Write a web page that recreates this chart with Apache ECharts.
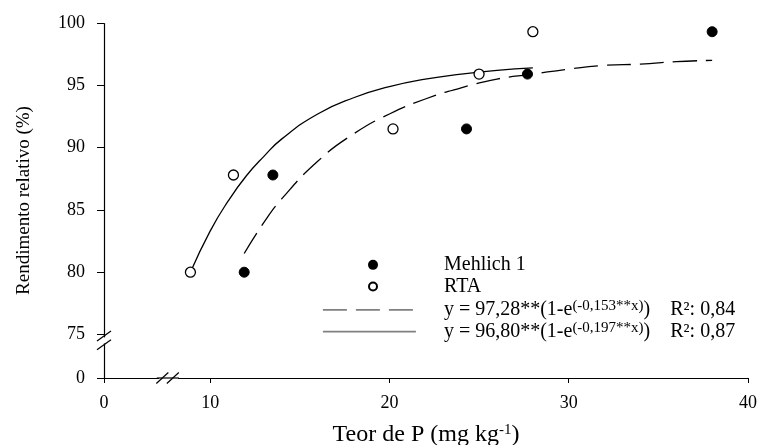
<!DOCTYPE html>
<html>
<head>
<meta charset="utf-8">
<script src="https://cdn.jsdelivr.net/npm/echarts@6/dist/echarts.min.js"></script>
<style>
  html, body { margin: 0; padding: 0; background: #fff; }
  #chart { width: 760px; height: 445px; }
</style>
</head>
<body>
<div id="chart"></div>
<script>
// pontos observados
const mehlichX = [11.9, 13.5, 24.3, 27.7, 38.0];
const mehlichY = [80.0, 87.8, 91.5, 95.9, 99.3];
const rtaX = [8.9, 11.3, 20.2, 25.0, 28.0];
const rtaY = [80.0, 87.8, 91.5, 95.9, 99.3];

// curvas ajustadas
const fitMX = [11.9, 13, 14, 16, 18, 20, 22, 24, 26, 28, 30, 32, 34, 36, 38];
const fitMY = [81.5, 84.0, 85.9, 88.9, 91.1, 92.7, 93.9, 94.8, 95.5, 95.9, 96.3, 96.6, 96.7, 96.9, 97.0];
const fitRX = [8.9, 10, 11, 12, 13, 14, 16, 18, 20, 22, 24, 26, 28];
const fitRY = [80.0, 83.3, 85.7, 87.7, 89.3, 90.7, 92.7, 94.0, 94.9, 95.5, 95.9, 96.2, 96.4];

const xTicks = [0, 10, 20, 30, 40];
const yTicks = [0, 75, 80, 85, 90, 95, 100];
const xBreak = [3, 8.2];
const yBreak = [2.8, 74.75];

const pointNames = ['Mehlich 1', 'RTA'];
const fitNames = ['eqM', 'eqR'];
const fitLabels = {
  eqM: '{g| }y = 97,28**(1-e{sup|(-0,153**x)})    R²: 0,84',
  eqR: '{g| }y = 96,80**(1-e{sup|(-0,197**x)})    R²: 0,87'
};

const FONT = 'Liberation Serif';
const pair = (xs, ys) => xs.map((x, i) => [x, ys[i]]);

const hiddenBreak = {
  expandOnClick: false,
  zigzagAmplitude: 0,
  itemStyle: { color: 'rgba(0,0,0,0)', borderColor: 'rgba(0,0,0,0)', borderWidth: 0, opacity: 0 }
};

const option = {
  animation: false,
  backgroundColor: '#fff',
  grid: { left: 104, right: 12, top: 23, bottom: 67, containLabel: false, outerBoundsMode: 'none' },
  xAxis: {
    type: 'value', min: 0, max: 40, interval: 10,
    breaks: [{ start: xBreak[0], end: xBreak[1], gap: 1.12 }],
    breakArea: hiddenBreak,
    name: 'Teor de P (mg kg{sup|-1})',
    nameLocation: 'middle', nameGap: 45,
    nameTextStyle: {
      fontFamily: FONT, fontSize: 24, color: '#000',
      rich: { sup: { fontFamily: FONT, fontSize: 15, verticalAlign: 'top', color: '#000' } }
    },
    axisLine: { show: true, onZero: false, lineStyle: { color: '#000', width: 1.2 } },
    axisTick: { show: true, inside: false, length: 5, customValues: xTicks, lineStyle: { color: '#000', width: 1 } },
    axisLabel: { customValues: xTicks, margin: 16, fontFamily: FONT, fontSize: 18, color: '#000' },
    splitLine: { show: false }
  },
  yAxis: {
    type: 'value', min: 0, max: 100, interval: 5,
    breaks: [{ start: yBreak[0], end: yBreak[1], gap: 0.44 }],
    breakArea: hiddenBreak,
    name: 'Rendimento relativo (%)',
    nameLocation: 'middle', nameGap: 70,
    nameTextStyle: { fontFamily: FONT, fontSize: 19, color: '#000' },
    axisLine: { show: true, onZero: false, lineStyle: { color: '#000', width: 1.2 } },
    axisTick: { show: true, inside: false, length: 7, customValues: yTicks, lineStyle: { color: '#000', width: 1 } },
    axisLabel: { customValues: yTicks, margin: 19, fontFamily: FONT, fontSize: 18, color: '#000' },
    splitLine: { show: false }
  },
  legend: [
    {
      data: pointNames, orient: 'vertical', left: 368, top: 254, padding: 0,
      itemWidth: 8, itemHeight: 8, itemGap: 0, selectedMode: false,
      formatter: n => '{g| }' + n,
      textStyle: {
        fontFamily: FONT, fontSize: 20, color: '#000', lineHeight: 21.7,
        rich: { g: { width: 62 } }
      }
    },
    {
      data: fitNames, orient: 'vertical', left: 322, top: 299, padding: 0,
      itemWidth: 93, itemHeight: 8, itemGap: 0, selectedMode: false,
      lineStyle: { color: '#808080', width: 1.8 },
      itemStyle: { color: 'rgba(0,0,0,0)', borderColor: 'rgba(0,0,0,0)', borderWidth: 0, opacity: 0 },
      formatter: n => fitLabels[n],
      textStyle: {
        fontFamily: FONT, fontSize: 20, color: '#000', lineHeight: 21.7,
        rich: {
          g: { width: 23 },
          sup: { fontFamily: FONT, fontSize: 15, color: '#000', verticalAlign: 'top', lineHeight: 13 }
        }
      }
    }
  ],
  series: [
    {
      name: 'eqM', type: 'line', data: pair(fitMX, fitMY),
      smooth: true, symbol: 'none', z: 2,
      lineStyle: { color: '#000', width: 1.3, type: [24, 9] }
    },
    {
      name: 'eqR', type: 'line', data: pair(fitRX, fitRY),
      smooth: true, symbol: 'none', z: 2,
      lineStyle: { color: '#000', width: 1.3, type: 'solid' }
    },
    {
      name: 'Mehlich 1', type: 'scatter', data: pair(mehlichX, mehlichY),
      symbol: 'circle', symbolSize: 10, z: 3,
      itemStyle: { color: '#000', borderColor: '#000', borderWidth: 1, opacity: 1 }
    },
    {
      name: 'RTA', type: 'scatter', data: pair(rtaX, rtaY),
      symbol: 'circle', symbolSize: 10, z: 3,
      itemStyle: { color: '#fff', borderColor: '#000', borderWidth: 1.3, opacity: 1 }
    }
  ]
};

const chart = echarts.init(document.getElementById('chart'));
chart.setOption(option);

// marcas de quebra dos eixos
const px = v => chart.convertToPixel({ gridIndex: 0 }, v);
const xa = px([xBreak[0], 0]), xb = px([xBreak[1], 0]);
const ya = px([0, yBreak[0]]), yb = px([0, yBreak[1]]);
const xm = (xa[0] + xb[0]) / 2, xy = xa[1];
const ym = (ya[1] + yb[1]) / 2, yx = ya[0];
const slash = (cx, cy, dx, dy) => ({
  type: 'line', z: 100,
  shape: { x1: cx - dx, y1: cy + dy, x2: cx + dx, y2: cy - dy },
  style: { stroke: '#000', lineWidth: 1.2 }
});
chart.setOption({
  graphic: [
    { type: 'line', z: 98, shape: { x1: xa[0] - 1, y1: xy, x2: xb[0] + 1, y2: xy }, style: { stroke: '#000', lineWidth: 1.2 } },
    { type: 'rect', z: 99, shape: { x: yx - 3, y: ym - 3, width: 6, height: 6 }, style: { fill: '#fff' } },
    slash(yx, ym - 4.3, 7, 5),
    slash(yx, ym + 4.3, 7, 5),
    slash(xm - 5.5, xy, 6, 5.5),
    slash(xm + 5, xy, 6, 5.5)
  ]
});
</script>
</body>
</html>
